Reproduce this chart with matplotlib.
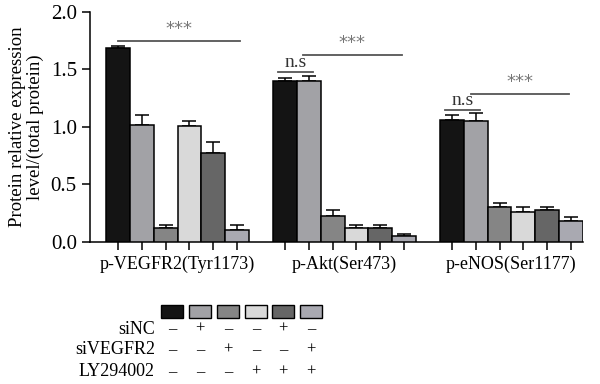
import numpy as np
import matplotlib.pyplot as plt
from matplotlib.patches import Rectangle

plt.rcParams['font.family'] = ['Liberation Serif', 'DejaVu Serif']

proteins = ['p-VEGFR2(Tyr1173)', 'p-Akt(Ser473)', 'p-eNOS(Ser1177)']
# mean per protein, 6 treatment groups each
means = [[1.69, 1.02, 0.125, 1.01, 0.776, 0.107],
         [1.40, 1.40, 0.223, 0.125, 0.125, 0.050],
         [1.065, 1.048, 0.304, 0.260, 0.275, 0.180]]
errs = [[0.012, 0.08, 0.025, 0.04, 0.095, 0.038],
        [0.03, 0.04, 0.052, 0.02, 0.02, 0.017],
        [0.043, 0.07, 0.035, 0.04, 0.025, 0.037]]
colors = ['#141414', '#a2a2a6', '#858585', '#d9d9d9', '#666666', '#a9a9b1']

row_names = ['siNC', 'siVEGFR2', 'LY294002']
signs = [['–', '+', '–', '–', '+', '–'],
         ['–', '–', '+', '–', '–', '+'],
         ['–', '–', '–', '+', '+', '+']]

# significance brackets: (x0, x1, y, text)
brackets = [(0.0, 5.1, 1.75, '***'),
            (6.7, 8.2, 1.48, 'n.s'),
            (7.75, 11.9, 1.63, '***'),
            (13.7, 15.2, 1.15, 'n.s'),
            (14.8, 18.9, 1.29, '***')]

fig = plt.figure(figsize=(6, 3.84), dpi=100)
ax = fig.add_axes([0.15, 0.3698, 0.8217, 0.599])

xs_all = []
for g in range(3):
    xs = np.arange(6) + g * 7
    xs_all.extend(xs)
    ax.bar(xs, means[g], width=1.0, color=colors, edgecolor='black',
           linewidth=1.1, zorder=3)
    ax.errorbar(xs, means[g], yerr=[np.zeros(6), errs[g]], fmt='none',
                ecolor='black', elinewidth=1.1, capsize=5, capthick=1.1,
                zorder=2)

for x0, x1, y, t in brackets:
    ax.plot([x0, x1], [y, y], color='#555555', lw=1.3, clip_on=False)
    if t == 'n.s':
        ax.text((x0 + x1) / 2, y + 0.005, t, ha='center', va='bottom',
                fontsize=14, color='#333333')
    else:
        ax.text((x0 + x1) / 2, y + 0.025, t, ha='center', va='bottom',
                fontsize=13, color='#777777', family='DejaVu Sans')

ax.set_xlim(-1.17, 19.5)
ax.set_ylim(0, 2.0)
ax.set_yticks([0, 0.5, 1.0, 1.5, 2.0])
ax.set_yticklabels(['0.0', '0.5', '1.0', '1.5', '2.0'], fontsize=15)
ax.set_xticks(xs_all)
ax.set_xticklabels([])
ax.tick_params(axis='both', direction='out', length=6, width=1.1)
for s in ['top', 'right']:
    ax.spines[s].set_visible(False)
for s in ['left', 'bottom']:
    ax.spines[s].set_linewidth(1.1)
ax.set_ylabel('Protein relative expression\nlevel/(total protein)',
              fontsize=13.5, linespacing=1.0, labelpad=5)

for g, name in enumerate(proteins):
    ax.text(g * 7 + 2.5, -0.12, name, ha='center', va='top', fontsize=13,
            transform=ax.transData)

# treatment legend below the chart
col_x = [172, 200, 228, 256, 283, 311]
for c, cx in zip(colors, col_x):
    fig.patches.append(Rectangle(((cx - 11) / 600, 1 - 318 / 384), 22 / 600,
                                 13 / 384, transform=fig.transFigure,
                                 facecolor=c, edgecolor='black', lw=1.0))
row_y = [329, 350, 372]
for name, ry, row in zip(row_names, row_y, signs):
    fig.text(155 / 600, 1 - ry / 384, name, ha='right', va='center',
             fontsize=13)
    for cx, sg in zip(col_x, row):
        fig.text(cx / 600, 1 - ry / 384, sg, ha='center', va='center',
                 fontsize=12)

fig.savefig('out.png', dpi=100)
